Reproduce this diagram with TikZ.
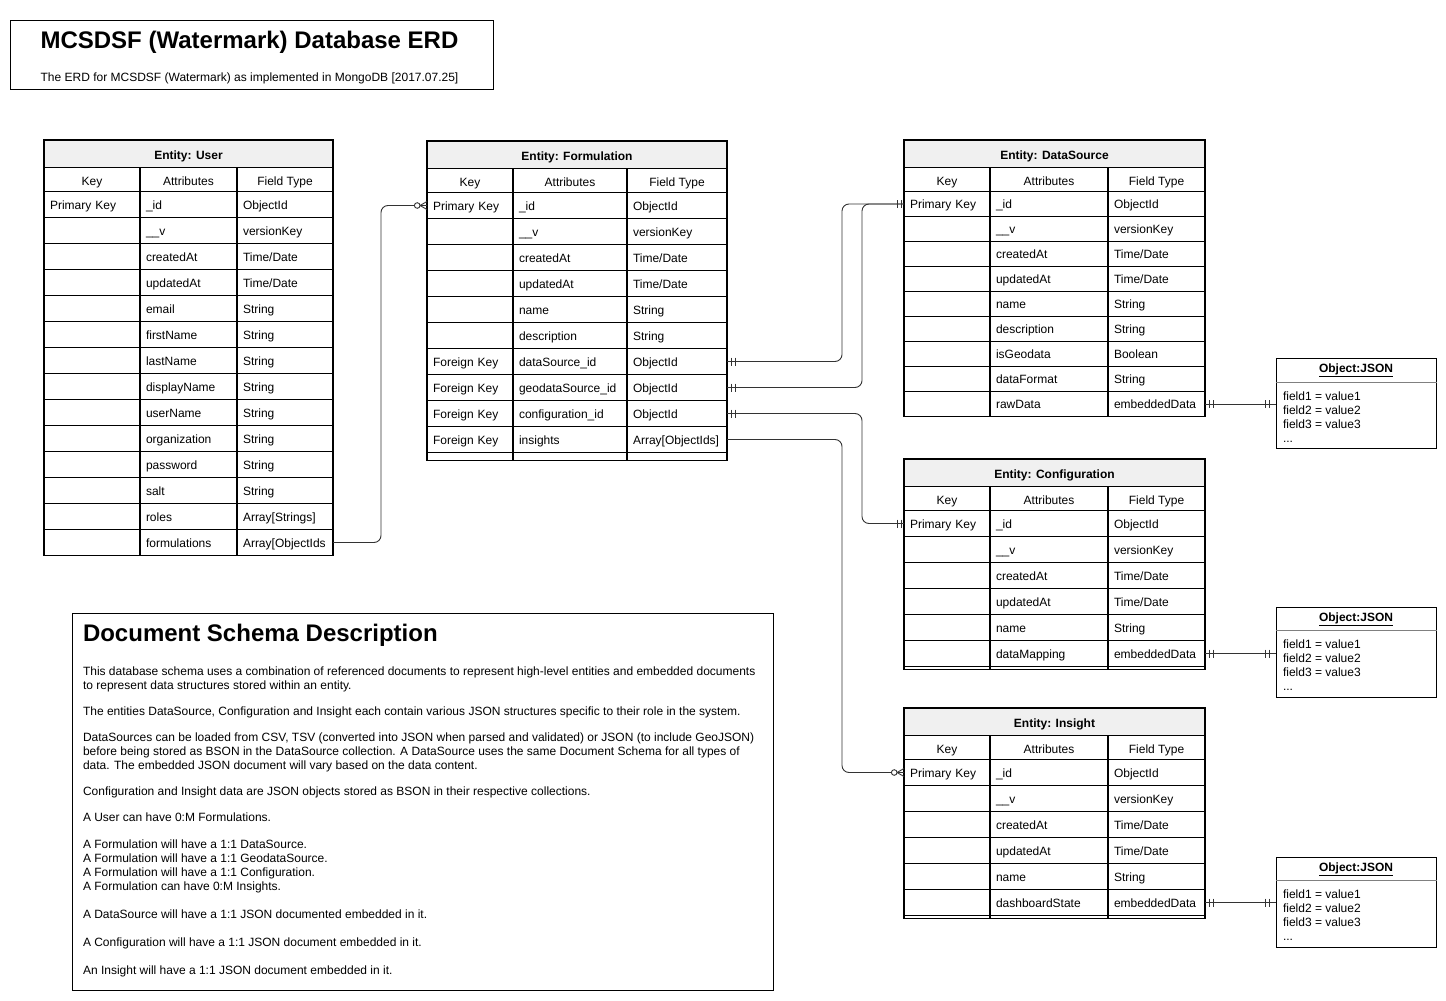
\documentclass[tikz,border=0pt]{standalone}
\usepackage{fontspec}
\setmainfont{Liberation Sans}
\usetikzlibrary{calc}
\definecolor{hdrgray}{HTML}{F0F0F0}
\definecolor{connc}{HTML}{333333}
\newcommand\tdate{Time/Date}
\tikzset{
  base/.style={font=\fontsize{12}{14}\selectfont, inner sep=0pt, outer sep=0pt, text height=10.5pt, text depth=1.5pt},
  txt/.style={base, anchor=west},
  cell/.style={base, inner xsep=6pt, align=left, anchor=west},
  colhead/.style={base},
  hdrtext/.style={base, font=\fontsize{12}{14}\selectfont\bfseries},
  bigtitle/.style={base, font=\fontsize{24}{28}\selectfont\bfseries, text height=18pt, text depth=5pt},
  thickline/.style={line width=1.6pt, black},
  rowline/.style={line width=0.8pt, black},
  conn/.style={draw=connc, line width=0.9pt, rounded corners=7pt},
  tipline/.style={draw=connc, line width=0.9pt},
  jsonframe/.style={draw=black, line width=1pt, minimum width=160pt, minimum height=90pt, inner sep=0pt},
  boxframe/.style={draw=black, line width=1pt, inner sep=0pt}
}
\def\erdsetcols#1/#2/#3/#4\relax{\def\erdXa{#1}\def\erdXb{#2}\def\erdXc{#3}\def\erdXd{#4}}
% #1 name, #2 column x's, #3 top y, #4 row height, #5 extra bottom, #6 title, #7 rows
\newcommand\erdtab[7]{%
  \erdsetcols#2\relax
  \pgfmathsetmacro\erdYa{#3+27.5}%
  \pgfmathsetmacro\erdYb{\erdYa+24}%
  \pgfmathsetmacro\erdWa{\erdXb-\erdXa-12}%
  \pgfmathsetmacro\erdWb{\erdXc-\erdXb-12}%
  \pgfmathsetmacro\erdWc{\erdXd-\erdXc-12}%
  \fill[hdrgray] (\erdXa,#3) rectangle (\erdXd,\erdYa);
  \node[hdrtext] (#1-title) at ({(\erdXa+\erdXd)/2},{(#3+\erdYa)/2+1}) {#6};
  \node[colhead] (#1-h1) at ({(\erdXa+\erdXb)/2},{(\erdYa+\erdYb)/2+1}) {Key};
  \node[colhead] (#1-h2) at ({(\erdXb+\erdXc)/2},{(\erdYa+\erdYb)/2+1}) {Attributes};
  \node[colhead] (#1-h3) at ({(\erdXc+\erdXd)/2},{(\erdYa+\erdYb)/2+1}) {Field Type};
  \foreach \vk/\va/\vt [count=\i from 0] in {#7}{%
    \pgfmathsetmacro\erdYc{\erdYb+(\i+0.5)*#4}%
    \pgfmathsetmacro\erdYd{\erdYb+(\i+1)*#4}%
    \node[cell,text width=\erdWa pt] (#1-k\i) at (\erdXa,\erdYc) {\vk};
    \node[cell,text width=\erdWb pt] (#1-a\i) at (\erdXb,\erdYc) {\va};
    \node[cell,text width=\erdWc pt] (#1-t\i) at (\erdXc,\erdYc) {\vt};
    \draw[rowline] (\erdXa,\erdYd) -- (\erdXd,\erdYd);
    \xdef\erdN{\i}%
  }%
  \pgfmathsetmacro\erdYe{\erdYb+(\erdN+1)*#4+#5}%
  \draw[thickline] (\erdXa,\erdYa) -- (\erdXd,\erdYa) (\erdXa,\erdYb) -- (\erdXd,\erdYb)
    (\erdXb,\erdYa) -- (\erdXb,\erdYe) (\erdXc,\erdYa) -- (\erdXc,\erdYe);
  \draw[thickline] (\erdXa,#3) rectangle (\erdXd,\erdYe);
}
% mandatory-one bars: #1 point, #2 side sign, #3 offset
\newcommand\mbar[3]{%
  \draw[tipline] ($(#1)+(#2*#3,-4)$) -- ++(0,8) ($(#1)+(#2*#3+#2*4,-4)$) -- ++(0,8);}
% zero-or-many, line entering from the left
\newcommand\zmany[1]{%
  \draw[tipline] ($(#1)+(-7,0)$) -- ($(#1)+(0,-4)$) ($(#1)+(-7,0)$) -- ($(#1)+(0,4)$);
  \draw[tipline,fill=white] ($(#1)+(-9.8,0)$) circle (2.8pt);}
\newcommand\jsonbox[2]{%
  \node[jsonframe] (#1) at (1356,#2) {};
  \node[hdrtext] (#1-title) at ($(#1.north)+(0,10)$) {\underline{Object:JSON}};
  \draw[gray, line width=0.8pt] ($(#1.north west)+(0,24)$) -- ($(#1.north east)+(0,24)$);
  \node[txt] (#1-f1) at ($(#1.north west)+(7.5,37.5)$) {field1 = value1};
  \node[txt] (#1-f2) at ($(#1.north west)+(7.5,51.5)$) {field2 = value2};
  \node[txt] (#1-f3) at ($(#1.north west)+(7.5,65.5)$) {field3 = value3};
  \node[txt] (#1-f4) at ($(#1.north west)+(7.5,79.5)$) {...};
}
\begin{document}
\begin{tikzpicture}[x=1pt,y=-1pt]
\useasboundingbox (0,0) rectangle (1446,1001);

% title box
\node[boxframe, minimum width=483pt, minimum height=69pt] (titlebox) at (251.5,54.5) {};
\node[bigtitle] (title) at (249.5,42) {MCSDSF (Watermark) Database ERD};
\node[base] (subtitle) at (249.5,76.5) {The ERD for MCSDSF (Watermark) as implemented in MongoDB [2017.07.25]};

% tables
\erdtab{user}{44/140/237/333}{140}{26}{0}{Entity: User}{%
  Primary Key/\_id/ObjectId, /\_\_v/versionKey, /createdAt/\tdate, /updatedAt/\tdate,
  /email/String, /firstName/String, /lastName/String, /displayName/String,
  /userName/String, /organization/String, /password/String, /salt/String,
  /roles/Array[Strings], /formulations/Array[ObjectIds}

\erdtab{form}{427/513/627/727}{141}{26}{8}{Entity: Formulation}{%
  Primary Key/\_id/ObjectId, /\_\_v/versionKey, /createdAt/\tdate, /updatedAt/\tdate,
  /name/String, /description/String, Foreign Key/dataSource\_id/ObjectId,
  Foreign Key/geodataSource\_id/ObjectId, Foreign Key/configuration\_id/ObjectId,
  Foreign Key/insights/Array[ObjectIds]}

\erdtab{ds}{904/990/1108/1205}{140}{25}{0}{Entity: DataSource}{%
  Primary Key/\_id/ObjectId, /\_\_v/versionKey, /createdAt/\tdate, /updatedAt/\tdate,
  /name/String, /description/String, /isGeodata/Boolean, /dataFormat/String,
  /rawData/embeddedData}

\erdtab{cfg}{904/990/1108/1205}{459}{26}{3}{Entity: Configuration}{%
  Primary Key/\_id/ObjectId, /\_\_v/versionKey, /createdAt/\tdate, /updatedAt/\tdate,
  /name/String, /dataMapping/embeddedData}

\erdtab{ins}{904/990/1108/1205}{708}{26}{3}{Entity: Insight}{%
  Primary Key/\_id/ObjectId, /\_\_v/versionKey, /createdAt/\tdate, /updatedAt/\tdate,
  /name/String, /dashboardState/embeddedData}

% JSON boxes
\jsonbox{json1}{403.5}
\jsonbox{json2}{652}
\jsonbox{json3}{902}

% connectors
\draw[conn] (user-t13.east) -- ++(48,0) |- (form-k0.west);
\draw[conn] (form-t6.east) -- ++(115,0) |- (ds-k0.west);
\draw[conn] (form-t7.east) -- ++(135,0) |- (ds-k0.west);
\draw[conn] (form-t8.east) -- ++(135,0) |- (cfg-k0.west);
\draw[conn] (form-t9.east) -- ++(115,0) |- (ins-k0.west);
\coordinate (j1in) at (ds-t8.east -| json1.west);
\coordinate (j2in) at (cfg-t5.east -| json2.west);
\coordinate (j3in) at (ins-t5.east -| json3.west);
\draw[conn] (ds-t8.east) -- (j1in);
\draw[conn] (cfg-t5.east) -- (j2in);
\draw[conn] (ins-t5.east) -- (j3in);

% markers
\zmany{form-k0.west}
\mbar{form-t6.east}{1}{4}
\mbar{form-t7.east}{1}{4}
\mbar{form-t8.east}{1}{4}
\mbar{ds-k0.west}{-1}{3}
\mbar{cfg-k0.west}{-1}{3}
\zmany{ins-k0.west}
\mbar{ds-t8.east}{1}{4}
\mbar{cfg-t5.east}{1}{4}
\mbar{ins-t5.east}{1}{4}
\mbar{j1in}{-1}{6}
\mbar{j2in}{-1}{6}
\mbar{j3in}{-1}{6}

% description box
\node[boxframe, minimum width=701pt, minimum height=377pt] (descbox) at (422.5,801.5) {};
\node[bigtitle, anchor=west] (desctitle) at (83,635) {Document Schema Description};
\foreach \yy/\tx [count=\dd] in {%
  670/{This database schema uses a combination of referenced documents to represent high-level entities and embedded documents},
  684/{to represent data structures stored within an entity.},
  710/{The entities DataSource, Configuration and Insight each contain various JSON structures specific to their role in the system.},
  736/{DataSources can be loaded from CSV, TSV (converted into JSON when parsed and validated) or JSON (to include GeoJSON)},
  750/{before being stored as BSON in the DataSource collection. A DataSource uses the same Document Schema for all types of},
  764/{data. The embedded JSON document will vary based on the data content.},
  790/{Configuration and Insight data are JSON objects stored as BSON in their respective collections.},
  816/{A User can have 0:M Formulations.},
  843/{A Formulation will have a 1:1 DataSource.},
  857/{A Formulation will have a 1:1 GeodataSource.},
  871/{A Formulation will have a 1:1 Configuration.},
  885/{A Formulation can have 0:M Insights.},
  913/{A DataSource will have a 1:1 JSON documented embedded in it.},
  941/{A Configuration will have a 1:1 JSON document embedded in it.},
  969/{An Insight will have a 1:1 JSON document embedded in it.}}{%
  \node[txt] (desc\dd) at (83,\yy+1) {\tx};
}
\end{tikzpicture}
\end{document}
